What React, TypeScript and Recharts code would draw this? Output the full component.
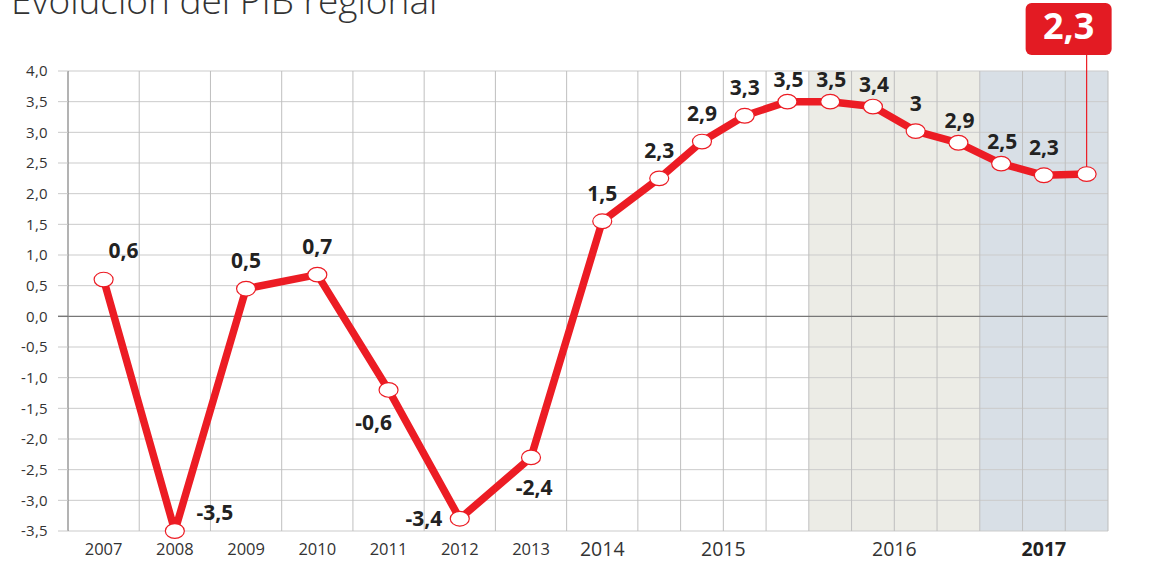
import React from 'react';
import {
  LineChart,
  Line,
  XAxis,
  YAxis,
  ReferenceLine,
  ReferenceArea,
  LabelList,
} from 'recharts';

// ---------- DATA ----------
const annualYears = [2007, 2008, 2009, 2010, 2011, 2012, 2013, 2014];
const quarterYears = [2015, 2016, 2017];
const quarterCounts = [4, 4, 3];
const gdpValues = [
  0.6, -3.5, 0.45, 0.68, -1.2, -3.3, -2.3, 1.55,
  2.25, 2.85, 3.27, 3.5,
  3.5, 3.42, 3.02, 2.83,
  2.49, 2.3, 2.32,
];
const gdpLabels = [
  '0,6', '-3,5', '0,5', '0,7', '-0,6', '-3,4', '-2,4', '1,5',
  '2,3', '2,9', '3,3', '3,5',
  '3,5', '3,4', '3', '2,9',
  '2,5', '2,3', '',
];
const labelPlacement = [
  'aboveRight', 'right', 'above', 'above', 'belowLeft', 'left', 'below', 'above',
  'above', 'above', 'above', 'aboveClose',
  'aboveClose', 'aboveClose', 'above', 'aboveClose',
  'aboveClose', 'above', 'none',
];
const yTicks = [-3.5, -3, -2.5, -2, -1.5, -1, -0.5, 0, 0.5, 1, 1.5, 2, 2.5, 3, 3.5, 4];
const calloutText = '2,3';
const titleText = 'Evolución del PIB regional';
const shadedYears = [2016, 2017];
const boldYear = 2017;

// ---------- LAYOUT ----------
const YEAR_W = 1;
const QUARTER_W = 0.6;
const FONT = '"Open Sans", "DejaVu Sans", sans-serif';
const RED = '#ec1c24';

type Slot = { start: number; end: number; year: number; annual: boolean };
const slots: Slot[] = [];
let pos = 0;
annualYears.forEach((y) => {
  slots.push({ start: pos, end: pos + YEAR_W, year: y, annual: true });
  pos += YEAR_W;
});
quarterYears.forEach((y, k) => {
  for (let q = 0; q < quarterCounts[k]; q++) {
    slots.push({ start: pos, end: pos + QUARTER_W, year: y, annual: false });
    pos += QUARTER_W;
  }
});
const total = pos;

const allYears = [...annualYears, ...quarterYears];
const yearRange = (y: number) => {
  const s = slots.filter((sl) => sl.year === y);
  return [s[0].start, s[s.length - 1].end];
};
const yearCenters = allYears.map((y) => {
  const [a, b] = yearRange(y);
  return (a + b) / 2;
});
const boundaries = slots.slice(0, -1).map((s) => s.end);

const data = slots.map((s, i) => ({
  x: (s.start + s.end) / 2,
  value: gdpValues[i],
  label: gdpLabels[i],
  place: labelPlacement[i],
}));

const fmtY = (v: number) => v.toFixed(1).replace('.', ',');

const LeftTick = (props: any) => {
  const { x, y, payload } = props;
  return (
    <g>
      {payload.value === 0 && (
        <line x1={x + 10} x2={x + 20} y1={y} y2={y} stroke="#777" strokeWidth={1.4} />
      )}
      <text x={x} y={y} dy="0.36em" textAnchor="end" fontSize={15} fill="#333" fontFamily={FONT} letterSpacing={0.3}>
        {fmtY(payload.value)}
      </text>
    </g>
  );
};

const RightTick = (props: any) => {
  const { x, y, payload } = props;
  return (
    <g>
      {payload.value === 0 && (
        <line x1={x - 20} x2={x - 10} y1={y} y2={y} stroke="#777" strokeWidth={1.4} />
      )}
      <text x={x + 18} y={y} dy="0.36em" textAnchor="end" fontSize={15} fill="#333" fontFamily={FONT} letterSpacing={0.3}>
        {fmtY(payload.value)}
      </text>
    </g>
  );
};

const XTick = (props: any) => {
  const { x, y, payload } = props;
  const idx = yearCenters.findIndex((c) => Math.abs(c - payload.value) < 1e-6);
  const year = allYears[idx];
  const big = year >= 2014;
  return (
    <text
      x={x}
      y={y}
      dy={big ? 17 : 16}
      textAnchor="middle"
      fontSize={big ? 19.5 : 16.5}
      fontWeight={year === boldYear ? 700 : 400}
      fill={year === boldYear ? '#222' : '#333'}
      fontFamily={FONT}
    >
      {year}
    </text>
  );
};

const EllipseDot = (props: any) => {
  const { cx, cy } = props;
  if (cx == null || cy == null) return null;
  return <ellipse cx={cx} cy={cy} rx={9.5} ry={7.3} fill="#fff" stroke={RED} strokeWidth={1.2} />;
};

const placeOffsets: Record<string, [number, number]> = {
  above: [0, -28],
  aboveClose: [1, -22],
  aboveRight: [20, -29],
  right: [40, -19],
  belowLeft: [-15, 33],
  left: [-36, 0],
  below: [3, 30],
};

const CALLOUT_TOP = 3;
const CALLOUT_H = 52;
const CALLOUT_W = 86;

const PointLabel = (props: any) => {
  const { x, y, index } = props;
  const d = data[index];
  if (!d) return null;
  if (d.place === 'none') {
    const bx = x - 61;
    return (
      <g>
        <line x1={x} x2={x} y1={CALLOUT_TOP + CALLOUT_H} y2={y - 7} stroke={RED} strokeWidth={1.2} />
        <rect x={bx} y={CALLOUT_TOP} width={CALLOUT_W} height={CALLOUT_H} rx={6} fill="#e31b23" />
        <text
          x={bx + CALLOUT_W / 2}
          y={CALLOUT_TOP + 36}
          textAnchor="middle"
          fontSize={36}
          fontWeight={700}
          fill="#fff"
          fontFamily={FONT}
        >
          {calloutText}
        </text>
      </g>
    );
  }
  const [dx, dy] = placeOffsets[d.place] || [0, -28];
  return (
    <text
      x={x + dx}
      y={y + dy}
      dy="0.36em"
      textAnchor="middle"
      fontSize={21}
      fontWeight={700}
      fill="#222"
      fontFamily={FONT}
    >
      {d.label}
    </text>
  );
};

export default function App() {
  return (
    <div style={{ position: 'absolute', left: 0, top: 0, width: 1149, height: 561, overflow: 'hidden', background: '#fff' }}>
      <div
        style={{
          position: 'absolute',
          left: 11,
          top: -20,
          fontFamily: FONT,
          fontWeight: 300,
          fontSize: 37,
          lineHeight: '40px',
          color: '#333',
          whiteSpace: 'nowrap',
        }}
      >
        {titleText}
      </div>
      <LineChart
        width={1149}
        height={561}
        data={data}
        margin={{ top: 71, right: 0, left: 0, bottom: 0 }}
        style={{ position: 'absolute', left: 0, top: 0 }}
      >
        <XAxis
          type="number"
          dataKey="x"
          domain={[0, total]}
          ticks={yearCenters}
          interval={0}
          tickLine={false}
          axisLine={false}
          height={30}
          tick={<XTick />}
          allowDataOverflow
        />
        <YAxis
          yAxisId="left"
          type="number"
          domain={[-3.5, 4]}
          ticks={yTicks}
          interval={0}
          width={68}
          tickSize={10}
          tickMargin={10}
          tickLine={{ stroke: '#c9c9c9' }}
          axisLine={{ stroke: '#8a8a8a', strokeWidth: 1.3 }}
          tick={<LeftTick />}
        />
        <YAxis
          yAxisId="right"
          orientation="right"
          type="number"
          domain={[-3.5, 4]}
          ticks={yTicks}
          interval={0}
          width={41}
          tickSize={10}
          tickMargin={10}
          tickLine={{ stroke: '#c9c9c9' }}
          axisLine={{ stroke: '#bdbdbd' }}
          tick={<RightTick />}
        />
        {shadedYears.map((yr, i) => {
          const [a, b] = yearRange(yr);
          return (
            <ReferenceArea
              key={'area' + yr}
              yAxisId="left"
              x1={a}
              x2={b}
              y1={-3.5}
              y2={4}
              fill={i === 0 ? '#ecece6' : '#d8dfe6'}
              fillOpacity={1}
              stroke="none"
            />
          );
        })}
        {yTicks.filter((t) => t !== 0).map((t) => (
          <ReferenceLine key={'h' + t} yAxisId="left" y={t} stroke="#cbcbcb" strokeWidth={1} />
        ))}
        {boundaries.map((b, i) => (
          <ReferenceLine key={'v' + i} yAxisId="left" x={b} stroke="#bfbfbf" strokeWidth={1} />
        ))}
        <ReferenceLine yAxisId="left" y={0} stroke="#777" strokeWidth={1.4} />
        <Line
          yAxisId="left"
          type="linear"
          dataKey="value"
          stroke={RED}
          strokeWidth={7.5}
          strokeLinejoin="round"
          dot={<EllipseDot />}
          activeDot={false}
          isAnimationActive={false}
        >
          <LabelList dataKey="label" content={<PointLabel />} />
        </Line>
      </LineChart>
    </div>
  );
}
